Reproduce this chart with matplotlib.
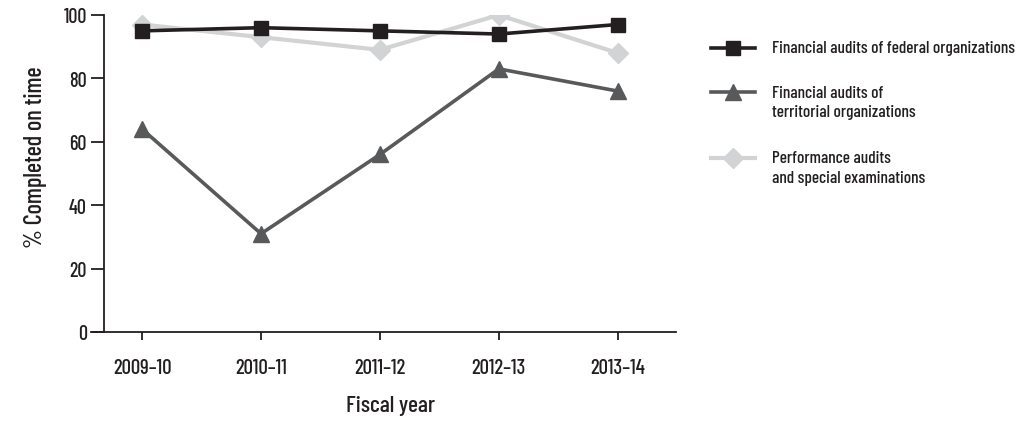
import matplotlib
matplotlib.use('Agg')
import matplotlib.pyplot as plt
from matplotlib.lines import Line2D
import numpy as np

# condensed face, closest to the original Futura Condensed look
plt.rcParams['font.family'] = ['Barlow Condensed', 'DejaVu Sans']
plt.rcParams['font.weight'] = 'medium'

# Data
years = ['2009–10', '2010–11', '2011–12', '2012–13', '2013–14']
federal = [95, 96, 95, 94, 97]
territorial = [64, 31, 56, 83, 76]
performance = [97, 93, 89, 100, 88]

labels = ['Financial audits of federal organizations',
          'Financial audits of\nterritorial organizations',
          'Performance audits\nand special examinations']

x = np.arange(len(years))
ink = '#231f20'
W, H = 1024, 427

fig = plt.figure(figsize=(10.24, 4.27), dpi=100)
ax = fig.add_axes([91 / W, 1 - 333 / H, (676 - 91) / W, (333 - 16) / H])

styles = [dict(color=ink, lw=2.6, marker='s', ms=10, zorder=4),
          dict(color='#58595b', lw=2.6, marker='^', ms=12, zorder=3),
          dict(color='#d1d3d4', lw=3, marker='D', ms=10, zorder=2)]

for vals, st in zip([federal, territorial, performance], styles):
    ax.plot(x, vals, **st)

ax.set_xlim(-0.43, 4.49)
ax.set_ylim(0, 100)
ax.spines['top'].set_visible(False)
ax.spines['right'].set_visible(False)
ax.spines['left'].set_position(('data', -0.32))
for s in ['left', 'bottom']:
    ax.spines[s].set_color(ink)
    ax.spines[s].set_linewidth(1.3)

ax.set_yticks([0, 20, 40, 60, 80, 100])
ax.set_xticks(x)
ax.set_xticklabels(years)
ax.tick_params(axis='y', length=9.5, width=1.3, colors=ink, labelsize=14.5, pad=3)
ax.tick_params(axis='x', length=6, width=1.3, colors=ink, labelsize=15, pad=13)

ax.set_ylabel('% Completed on time', fontsize=17.5, color=ink, fontweight='medium')
ax.yaxis.set_label_coords(-0.076, 0.555)
ax.set_xlabel('Fiscal year', fontsize=17, color=ink, fontweight='medium')
ax.xaxis.set_label_coords(0.512, -0.20)

# legend drawn by hand so the symbol sits beside the first text line
first_line_y = [49, 93, 159]
for lab, st, yy in zip(labels, styles, first_line_y):
    st = dict(st)
    st.pop('zorder')
    fig.add_artist(Line2D([711 / W, 755 / W], [1 - yy / H] * 2,
                          markevery=[], transform=fig.transFigure, **st))
    fig.add_artist(Line2D([733 / W], [1 - yy / H],
                          transform=fig.transFigure, **st))
    for k, part in enumerate(lab.split('\n')):
        fig.text(772 / W, 1 - (yy + 20 * k) / H, part, fontsize=12.4,
                 color=ink, va='center', ha='left')

fig.savefig('out.png', dpi=100)
